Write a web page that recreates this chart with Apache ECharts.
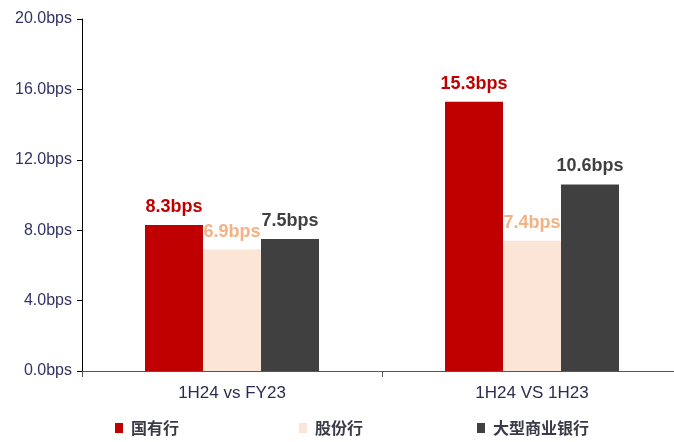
<!DOCTYPE html>
<html><head><meta charset="utf-8">
<script src="https://cdn.jsdelivr.net/npm/echarts@6/dist/echarts.min.js"></script>
<style>html,body{margin:0;padding:0;background:#fff}#c{width:674px;height:442px}</style>
</head><body><div id="c"></div>
<script>
var categories = ['1H24 vs FY23', '1H24 VS 1H23'];
var seriesNames = ['国有行', '股份行', '大型商业银行'];
var stateOwned = [8.3, 15.3];
var jointStock = [6.9, 7.4];
var largeBanks = [7.5, 10.6];
var yTicks = [0, 4, 8, 12, 16, 20];

var colors = ['#C00000', '#FBE5D6', '#404040'];
var labelColors = ['#C00000', '#F4B183', '#404040'];
var dataSets = [stateOwned, jointStock, largeBanks];
var legendLeft = [115, 299, 477];

var chart = echarts.init(document.getElementById('c'));
chart.setOption({
  animation: false,
  grid: {left: 82, width: 600, top: 19, bottom: 71, containLabel: false, outerBoundsMode: 'none'},
  legend: seriesNames.map(function (n, i) {
    return {
      left: legendLeft[i], top: 420, itemWidth: 8, itemHeight: 10,
      icon: 'rect', padding: 0,
      textStyle: {fontFamily: 'Noto Sans CJK SC', fontSize: 16, fontWeight: 'bold', color: '#3a3a48', padding: [0, 0, 0, 3]},
      data: [n]
    };
  }),
  xAxis: {
    type: 'category', data: categories,
    axisLine: {lineStyle: {color: '#555', width: 1}},
    axisTick: {show: true, length: 6, lineStyle: {color: '#555'}},
    axisLabel: {color: '#2B2B55', fontFamily: 'Liberation Sans, Arial', fontSize: 17, margin: 14}
  },
  yAxis: {
    type: 'value', min: yTicks[0], max: yTicks[yTicks.length - 1], interval: 4,
    axisLine: {show: true, lineStyle: {color: '#000', width: 1}},
    axisTick: {show: true, length: 5, lineStyle: {color: '#000'}},
    splitLine: {show: false},
    axisLabel: {color: '#333366', fontFamily: 'Liberation Sans, Arial', fontSize: 16, margin: 10,
      formatter: function (v) { return v.toFixed(1) + 'bps'; }}
  },
  series: seriesNames.map(function (n, i) {
    return {
      name: n, type: 'bar', data: dataSets[i], barWidth: 58, barGap: '0%',
      itemStyle: {color: colors[i]},
      label: {show: true, position: 'top', distance: 9,
        color: labelColors[i], fontWeight: 'bold', fontSize: 18,
        fontFamily: 'Liberation Sans, Arial',
        formatter: function (p) { return p.value.toFixed(1) + 'bps'; }}
    };
  })
});
</script></body></html>
